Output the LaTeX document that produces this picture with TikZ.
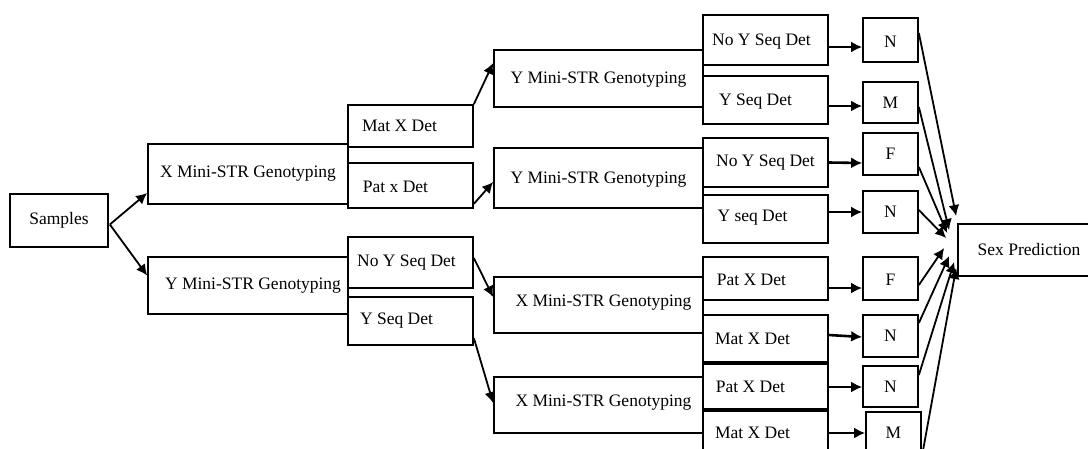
\documentclass[tikz,border=0pt]{standalone}
\usepackage{fontspec}
\setmainfont{Liberation Serif}
\usetikzlibrary{arrows.meta}
\begin{document}
\begin{tikzpicture}[x=1pt,y=-1pt,
  box/.style={draw, line width=1.7pt, inner sep=0pt},
  every label/.style={font=\fontsize{17.5}{20}\selectfont, inner sep=0pt},
  arr/.style={line width=1.8pt, -{Latex[length=11pt,width=11pt]}},
  harr/.style={arr, line width=2.6pt}]
\useasboundingbox (0,0) rectangle (1088,448);
\clip (0,0) rectangle (1088,448);
% column 1
\node[box, minimum width=98pt, minimum height=53pt, label={center:Samples}] (sam) at (59,220.5) {};
% column 2
\node[box, minimum width=200pt, minimum height=60pt, label={center:X Mini-STR Genotyping}] (x1) at (248,174) {};
\node[box, minimum width=200pt, minimum height=57pt, label={[xshift=5pt]center:Y Mini-STR Genotyping}] (y1) at (248,285.5) {};
% column 3
\node[box, minimum width=125pt, minimum height=42pt, label={[xshift=-11pt]center:Mat X Det}] (mx1) at (410.5,126) {};
\node[box, minimum width=125pt, minimum height=45pt, label={[xshift=-15pt,yshift=-1.5pt]center:Pat x Det}] (px1) at (410.5,185.5) {};
\node[box, minimum width=125pt, minimum height=51pt, label={[xshift=-4pt]center:No Y Seq Det}] (ny1) at (410.5,262.5) {};
\node[box, minimum width=125pt, minimum height=48pt, label={[xshift=-14pt]center:Y Seq Det}] (ys1) at (410.5,321) {};
% column 4
\node[box, minimum width=209pt, minimum height=57pt, label={[yshift=-1.5pt]center:Y Mini-STR Genotyping}] (yma) at (598.5,78.5) {};
\node[box, minimum width=209pt, minimum height=60pt, label={[yshift=-2pt]center:Y Mini-STR Genotyping}] (ymb) at (598.5,178) {};
\node[box, minimum width=209pt, minimum height=56pt, label={[xshift=5pt,yshift=2pt]center:X Mini-STR Genotyping}] (xma) at (598.5,305) {};
\node[box, minimum width=209pt, minimum height=56pt, label={[xshift=5pt,yshift=2pt]center:X Mini-STR Genotyping}] (xmb) at (598.5,405) {};
% column 5
\node[box, minimum width=125pt, minimum height=50pt, label={[xshift=-4pt,yshift=-2pt]center:No Y Seq Det}] (nya) at (765.5,40) {};
\node[box, minimum width=125pt, minimum height=48pt, label={[xshift=-10pt,yshift=-2pt]center:Y Seq Det}] (ysa) at (765.5,100) {};
\node[box, minimum width=125pt, minimum height=49pt, label={center:No Y Seq Det}] (nyb) at (765.5,162.5) {};
\node[box, minimum width=125pt, minimum height=48pt, label={[xshift=-13pt,yshift=1pt]center:Y seq Det}] (ysb) at (765.5,219) {};
\node[box, minimum width=125pt, minimum height=43pt, label={[xshift=-14pt,yshift=-1.5pt]center:Pat X Det}] (pa) at (765.5,278.5) {};
\node[box, minimum width=125pt, minimum height=47pt, label={[xshift=-13pt]center:Mat X Det}] (ma) at (765.5,338.5) {};
\node[box, minimum width=125pt, minimum height=45pt, label={[xshift=-15pt]center:Pat X Det}] (pc) at (765.5,386.5) {};
\node[box, minimum width=125pt, minimum height=48pt, label={[xshift=-13pt,yshift=2pt]center:Mat X Det}] (mc) at (765.5,435) {};
% column 6
\node[box, minimum width=55pt, minimum height=44pt, label={[yshift=-2pt]center:N}] (r1) at (890.5,40) {};
\node[box, minimum width=55pt, minimum height=41pt, label={center:M}] (r2) at (890.5,102.5) {};
\node[box, minimum width=55pt, minimum height=42pt, label={center:F}] (r3) at (890.5,154) {};
\node[box, minimum width=55pt, minimum height=42pt, label={center:N}] (r4) at (890.5,212) {};
\node[box, minimum width=55pt, minimum height=43pt, label={[yshift=-1.5pt]center:F}] (r5) at (890.5,278.5) {};
\node[box, minimum width=55pt, minimum height=42pt, label={center:N}] (r6) at (890.5,336) {};
\node[box, minimum width=55pt, minimum height=41pt, label={center:N}] (r7) at (890.5,386.5) {};
\node[box, minimum width=55pt, minimum height=44pt, label={[yshift=1pt]center:M}] (r8) at (893.5,434) {};
% final
\node[box, minimum width=142pt, minimum height=52pt, label={center:Sex Prediction}] (sp) at (1029,250) {};
% connectors, left part
\draw[arr] ([shift={(1,4)}]sam.east) -- ([shift={(0,19)}]x1.west);
\draw[arr] ([shift={(1,4)}]sam.east) -- ([shift={(0,-10)}]y1.west);
\draw[arr] (mx1.north east) -- ([shift={(0,-15.5)}]yma.west);
\draw[arr] ([shift={(0,-5)}]px1.south east) -- ([shift={(0,4)}]ymb.west);
\draw[arr] ([shift={(0,-4.5)}]ny1.east) -- ([shift={(0,-8)}]xma.west);
\draw[arr] ([shift={(0,17)}]ys1.east) -- ([shift={(0,-2)}]xmb.west);
% connectors, to results
\draw[harr] ([shift={(0,7)}]nya.east) -- ([shift={(0,7)}]r1.west);
\draw[harr] ([shift={(0,6)}]ysa.east) -- ([shift={(0,3.5)}]r2.west);
\draw[harr] (nyb.east) -- ([shift={(0,9)}]r3.west);
\draw[harr] ([shift={(0,-7)}]ysb.east) -- (r4.west);
\draw[harr] ([shift={(0,9.5)}]pa.east) -- ([shift={(0,9.5)}]r5.west);
\draw[harr] ([shift={(0,-3.5)}]ma.east) -- ([shift={(0,1)}]r6.west);
\draw[harr] ([shift={(0,0.5)}]pc.east) -- ([shift={(0,0.5)}]r7.west);
\draw[harr] ([shift={(0,-2)}]mc.east) -- ([shift={(0,-1)}]r8.west);
% connectors, to sex prediction
\draw[arr] ([shift={(0,-7)}]r1.east) -- ([shift={(-1,-34)}]sp.west);
\draw[arr] ([shift={(0,4.5)}]r2.east) -- ([shift={(-8,-20)}]sp.west);
\draw[arr] ([shift={(0,13)}]r3.east) -- ([shift={(-10,-17)}]sp.west);
\draw[arr] ([shift={(0,-2)}]r4.east) -- ([shift={(-11,-12)}]sp.west);
\draw[arr] ([shift={(0,6.5)}]r5.east) -- ([shift={(-13,-2)}]sp.west);
\draw[arr] ([shift={(0,-13)}]r6.east) -- ([shift={(-8,6)}]sp.west);
\draw[arr] ([shift={(0,-11.5)}]r7.east) -- ([shift={(-3,12)}]sp.west);
\draw[arr] (r8.south east) -- ([shift={(-1,18)}]sp.west);
\end{tikzpicture}
\end{document}
